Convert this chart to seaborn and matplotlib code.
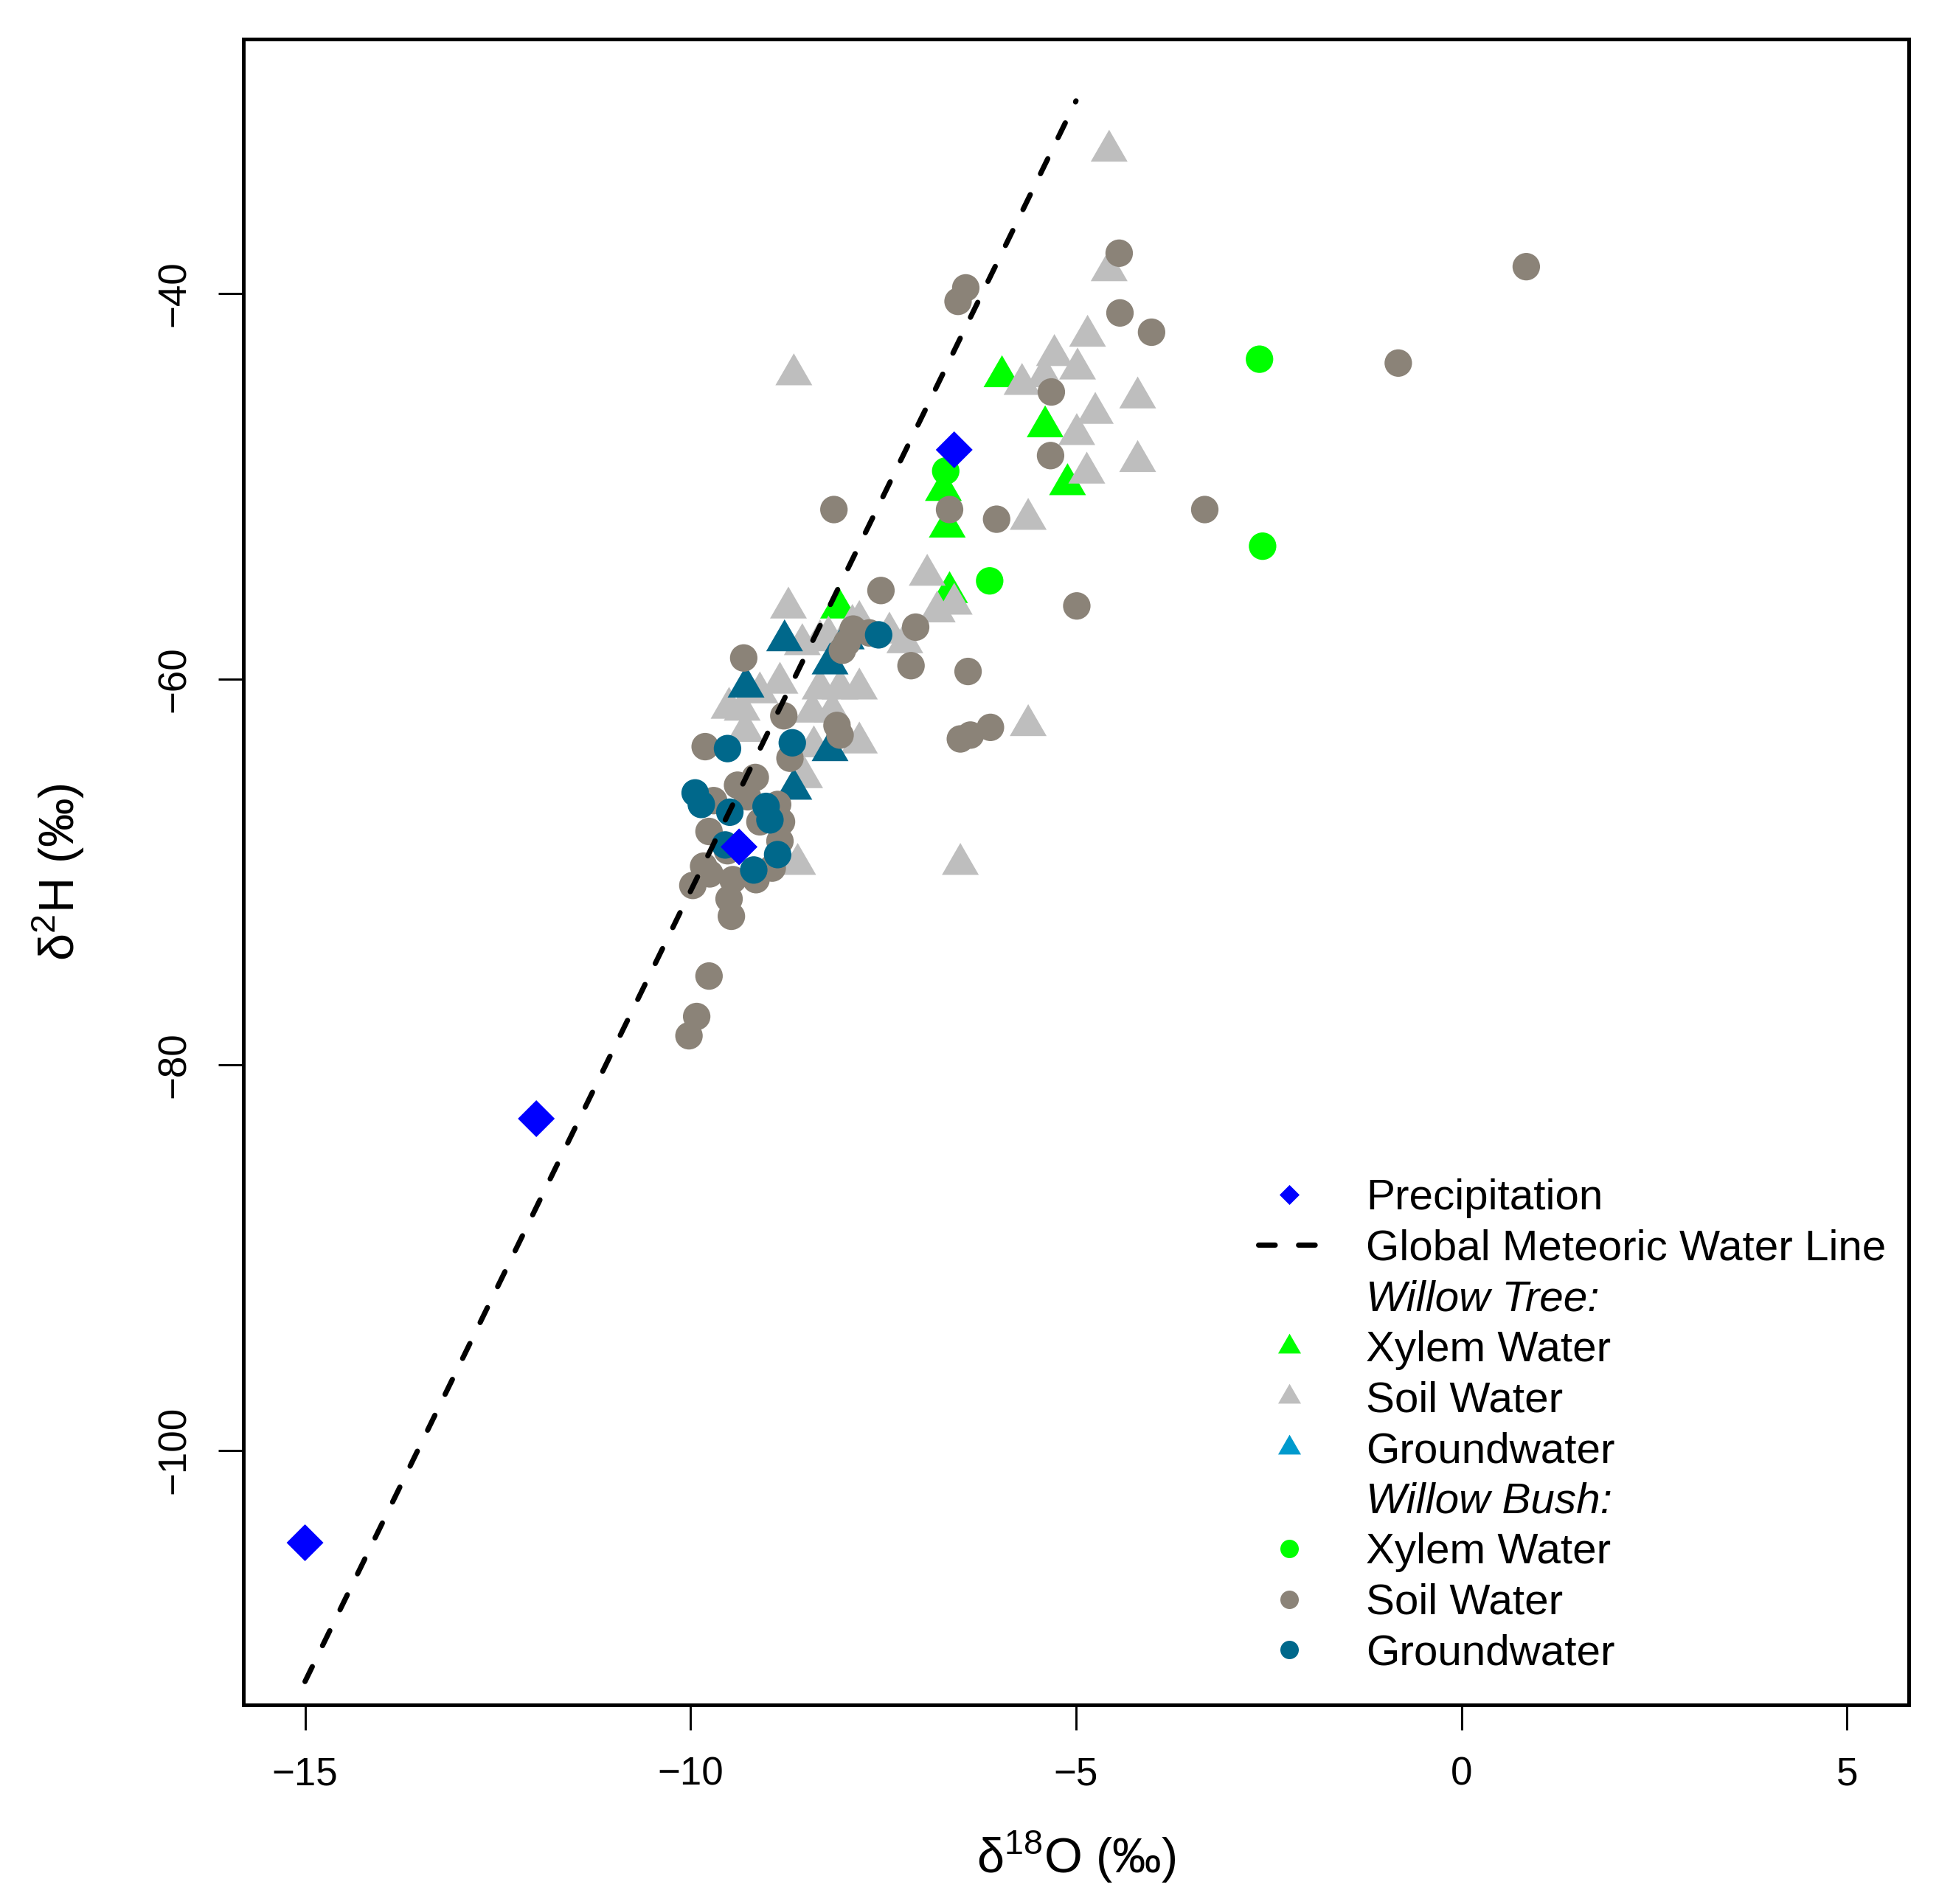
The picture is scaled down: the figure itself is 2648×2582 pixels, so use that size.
import pandas as pd
import seaborn as sns
import matplotlib.pyplot as plt
from matplotlib.lines import Line2D

sns.set_style("ticks")
plt.rcParams["font.family"] = ["Liberation Sans", "DejaVu Sans"]
plt.rcParams["mathtext.fontset"] = "custom"
plt.rcParams["mathtext.rm"] = "Liberation Sans"
plt.rcParams["mathtext.default"] = "regular"
plt.rcParams["lines.scale_dashes"] = False
plt.rcParams["text.color"] = "black"
plt.rcParams["axes.labelcolor"] = "black"

# values (d18O, d2H in permil)
precip_d18o = [-15.0, -12.0, -6.58, -9.37]
precip_d2h = [-104.8, -82.8, -48.1, -68.7]

tree_xylem_d18o = [-5.96, -5.40, -5.11, -6.72, -6.67, -6.64, -8.08]
tree_xylem_d2h = [-44.3, -46.9, -49.9, -50.2, -52.1, -55.5, -56.3]

tree_soil_d18o = [-4.57, -4.57, -8.66, -4.85, -5.28, -4.98, -5.70, -5.41, -4.20, -4.75,
                  -4.99, -4.20, -4.86, -5.62, -6.93, -6.58, -6.80, -7.81, -7.42, -8.21,
                  -8.73, -7.90, -7.22, -8.55, -8.32, -8.84, -9.10, -9.33, -8.32, -7.81,
                  -8.06, -8.42, -8.16, -7.81, -8.40, -8.52, -8.61, -6.50, -5.62, -9.29,
                  -9.50]
tree_soil_d2h = [-32.6, -38.8, -44.2, -42.2, -43.2, -43.9, -44.7, -44.3, -45.4, -46.2,
                 -47.3, -48.7, -49.3, -51.7, -54.6, -56.1, -56.5, -57.0, -57.6, -57.8,
                 -56.3, -57.2, -58.1, -58.2, -58.0, -60.2, -60.7, -61.6, -60.5, -60.5,
                 -60.5, -61.7, -61.7, -63.3, -63.5, -65.1, -69.6, -69.6, -62.4, -62.7,
                 -61.5]

tree_gw_d18o = [-8.78, -9.28, -8.19, -7.98, -8.19, -8.66]
tree_gw_d2h = [-58.0, -60.4, -59.2, -57.9, -63.7, -65.7]

bush_xylem_d18o = [-2.62, -2.58, -6.12, -6.69]
bush_xylem_d2h = [-43.4, -53.1, -54.9, -49.2]

bush_soil_d18o = [-4.44, 0.84, -4.43, -4.02, -0.82, -5.32, -6.43, -6.53, -5.33, -6.64,
                  -6.03, -3.33, -8.14, -7.53, -4.99, -7.08, -7.14, -6.40, -6.11, -6.37,
                  -6.50, -9.31, -7.89, -7.68, -8.03, -7.97, -8.79, -8.10, -8.06, -9.81,
                  -8.71, -9.16, -9.39, -9.70, -9.76, -8.87, -8.82, -8.84, -8.94, -9.15,
                  -9.45, -9.75, -9.97, -9.50, -9.47, -9.83, -9.52, -9.26, -9.10, -9.76,
                  -9.92, -10.02]
bush_soil_d2h = [-37.9, -38.6, -41.0, -42.0, -43.6, -45.1, -39.7, -40.4, -48.4, -51.2,
                 -51.7, -51.2, -51.2, -55.4, -56.2, -57.3, -59.3, -59.6, -62.5, -62.9,
                 -63.1, -58.9, -57.4, -57.6, -58.5, -58.1, -61.9, -62.4, -62.9, -63.5,
                 -64.1, -65.1, -65.5, -66.3, -67.9, -66.5, -67.4, -68.4, -69.8, -70.4,
                 -70.4, -70.1, -70.7, -71.4, -72.3, -69.7, -68.9, -66.1, -67.4, -75.4,
                 -77.5, -78.5]

bush_gw_d18o = [-7.56, -9.52, -8.68, -9.94, -9.86, -9.49, -9.02, -8.97, -9.55, -8.87, -9.18]
bush_gw_d2h = [-57.7, -63.6, -63.3, -65.9, -66.5, -66.9, -66.6, -67.3, -68.6, -69.1, -69.9]

gmwl_d18o = [-15.0, -5.0]
gmwl_d2h = [-112.0, -30.0]

x_ticks = [-15, -10, -5, 0, 5]
y_ticks = [-100, -80, -60, -40]

legend_labels = ["Precipitation", "Global Meteoric Water Line", "Willow Tree:",
                 "Xylem Water", "Soil Water", "Groundwater", "Willow Bush:",
                 "Xylem Water", "Soil Water", "Groundwater"]

c_precip = "#0000FF"
c_xylem = "#00FF00"
c_tree_soil = "#BEBEBE"
c_bush_soil = "#8B8378"
c_gw = "#00688B"
c_gw_legend = "#009ACD"

tri = [(0, 1.1547), (-1, -0.57735), (1, -0.57735)]
diamond = [(0, 1), (1, 0), (0, -1), (-1, 0)]
dash = (0, (5.4, 7.6))

fig = plt.figure(figsize=(2648 / 300, 2582 / 300), dpi=300)
ax = fig.add_axes([0.1246, 0.1047, 0.8527, 0.8747])


def points(x, y, color, marker, size):
    sns.scatterplot(x=x, y=y, color=color, marker=marker, s=size,
                    linewidth=0, edgecolor="none", legend=False, ax=ax)


points(tree_xylem_d18o, tree_xylem_d2h, c_xylem, tri, 192)
points(tree_soil_d18o, tree_soil_d2h, c_tree_soil, tri, 192)
points(tree_gw_d18o, tree_gw_d2h, c_gw, tri, 192)
points(bush_xylem_d18o, bush_xylem_d2h, c_xylem, "o", 80)
points(bush_soil_d18o, bush_soil_d2h, c_bush_soil, "o", 80)
points(bush_gw_d18o, bush_gw_d2h, c_gw, "o", 80)
points(precip_d18o, precip_d2h, c_precip, diamond, 144)

sns.lineplot(x=gmwl_d18o, y=gmwl_d2h, color="black", lw=1.7,
             linestyle=dash, dash_capstyle="round", ax=ax)

ax.set_xlim(-15.8, 5.8)
ax.set_ylim(-113.2, -26.8)
ax.set_xticks(x_ticks, labels=[str(v).replace("-", "\u2212") for v in x_ticks])
ax.set_yticks(y_ticks, labels=[str(v).replace("-", "\u2212") for v in y_ticks],
              rotation=90, va="center")
ax.tick_params(direction="out", length=8.2, width=0.7, labelsize=12.7, colors="black")
ax.tick_params(axis="x", pad=8.5)
ax.tick_params(axis="y", pad=8.2)
for sp in ax.spines.values():
    sp.set_visible(True)
    sp.set_linewidth(1.2)
    sp.set_color("black")

ax.set_xlabel("\u03b4$^{18}$O (\u2030)", fontsize=16, va="center", color="black")
ax.xaxis.set_label_coords(0.5, -0.0915)
ax.set_ylabel("\u03b4$^{2}$H (\u2030)", fontsize=16, va="center", ha="center", color="black")
ax.yaxis.set_label_coords(-0.111, 0.5)

handles = [
    Line2D([], [], ls="none", marker=diamond, ms=6.5, mfc=c_precip, mec="none"),
    Line2D([], [], color="black", lw=1.7, ls=dash, dash_capstyle="round"),
    Line2D([], [], ls="none"),
    Line2D([], [], ls="none", marker=tri, ms=8.6, mfc=c_xylem, mec="none"),
    Line2D([], [], ls="none", marker=tri, ms=8.6, mfc=c_tree_soil, mec="none"),
    Line2D([], [], ls="none", marker=tri, ms=8.6, mfc=c_gw_legend, mec="none"),
    Line2D([], [], ls="none"),
    Line2D([], [], ls="none", marker="o", ms=6, mfc=c_xylem, mec="none"),
    Line2D([], [], ls="none", marker="o", ms=6, mfc=c_bush_soil, mec="none"),
    Line2D([], [], ls="none", marker="o", ms=6, mfc=c_gw, mec="none"),
]
leg = ax.legend(handles, legend_labels, loc="center left", bbox_to_anchor=(0.6443, 0.2510),
                bbox_transform=fig.transFigure, frameon=False, fontsize=14,
                handlelength=1.42, handletextpad=1.08, labelspacing=0.25,
                borderpad=0, borderaxespad=0, numpoints=1, labelcolor="black")
leg.get_texts()[2].set_fontstyle("italic")
leg.get_texts()[6].set_fontstyle("italic")

fig.savefig("out.png", dpi=300)
